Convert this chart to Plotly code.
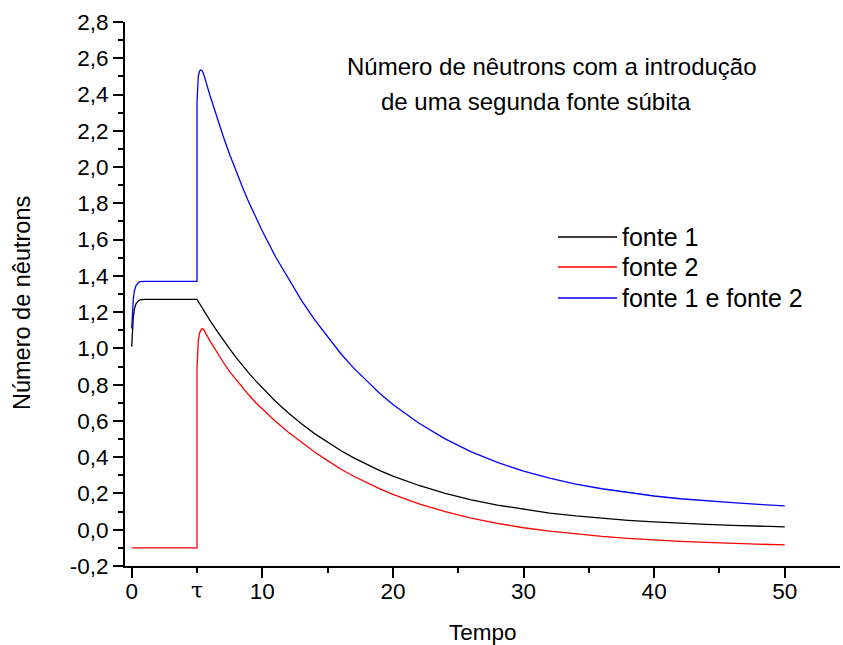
import plotly.graph_objects as go

# Time axis shared by the three curves (second source switched on at t = tau = 5)
tempo = [0, 0.06, 0.12, 0.2, 0.33, 0.5, 0.64, 1.0, 5.0,
         5.0, 5.05, 5.1, 5.2, 5.3, 5.4, 5.5, 6, 6.5, 7, 7.5, 8, 8.5, 9, 9.5, 10,
         11, 12, 13, 14, 15, 16, 17, 18, 19, 20, 22, 24, 26, 28, 30,
         32, 34, 36, 38, 40, 42, 44, 46, 48, 50]

fonte_1 = [1.01, 1.10, 1.17, 1.215, 1.246, 1.262, 1.268, 1.27, 1.27,
           1.27, 1.264, 1.258, 1.246, 1.234, 1.222, 1.21, 1.153, 1.099, 1.046, 0.997,
           0.949, 0.904, 0.861, 0.821, 0.782,
           0.709, 0.644, 0.584, 0.530, 0.481, 0.437, 0.396, 0.360, 0.326, 0.296,
           0.244, 0.201, 0.165, 0.136, 0.112,
           0.092, 0.076, 0.063, 0.052, 0.043, 0.035, 0.029, 0.024, 0.020, 0.016]

fonte_2 = [-0.1, -0.1, -0.1, -0.1, -0.1, -0.1, -0.1, -0.1, -0.1,
           0.89, 0.99, 1.044, 1.085, 1.102, 1.108, 1.105, 1.04, 0.98, 0.925, 0.872,
           0.826, 0.782, 0.74, 0.70, 0.665,
           0.598, 0.538, 0.481, 0.429, 0.381, 0.335, 0.295, 0.259, 0.225, 0.195,
           0.143, 0.100, 0.064, 0.035, 0.011,
           -0.008, -0.024, -0.037, -0.048, -0.057, -0.064, -0.070, -0.075, -0.080, -0.084]

fonte_1_e_2 = [1.11, 1.20, 1.27, 1.315, 1.346, 1.362, 1.368, 1.37, 1.37,
               2.36, 2.454, 2.502, 2.531, 2.536, 2.53, 2.515, 2.393, 2.279, 2.171, 2.069,
               1.975, 1.886, 1.801, 1.721, 1.647,
               1.507, 1.382, 1.265, 1.159, 1.062, 0.972, 0.891, 0.819, 0.751, 0.691,
               0.587, 0.501, 0.429, 0.371, 0.323,
               0.284, 0.252, 0.226, 0.204, 0.186, 0.171, 0.159, 0.149, 0.140, 0.132]

series_names = ["fonte 1", "fonte 2", "fonte 1 e fonte 2"]
series_values = [fonte_1, fonte_2, fonte_1_e_2]
series_colors = ["#000000", "#FF0000", "#0000FF"]

x_tick_vals = [0, 10, 20, 30, 40, 50]
x_tick_text = ["0", "10", "20", "30", "40", "50"]
x_minor_vals = [5, 15, 25, 35, 45]
tau_label = "τ"

y_tick_vals = [-0.2, 0.0, 0.2, 0.4, 0.6, 0.8, 1.0, 1.2, 1.4, 1.6, 1.8, 2.0, 2.2, 2.4, 2.6, 2.8]
y_tick_text = ["-0,2", "0,0", "0,2", "0,4", "0,6", "0,8", "1,0", "1,2", "1,4",
               "1,6", "1,8", "2,0", "2,2", "2,4", "2,6", "2,8"]
y_minor_vals = [-0.1, 0.1, 0.3, 0.5, 0.7, 0.9, 1.1, 1.3, 1.5, 1.7, 1.9, 2.1, 2.3, 2.5, 2.7]

title_lines = ["Número de nêutrons com a introdução", "de uma segunda fonte súbita"]
x_title = "Tempo"
y_title = "Número de nêutrons"

W, H = 843, 645
L, R, T, B = 125, 3, 22, 79
FONT = "Liberation Sans, Arial, sans-serif"


def px_x(p):
    return (p - L) / (W - L - R)


def px_y(p):
    return (H - B - p) / (H - T - B)


fig = go.Figure()
for name, vals, col in zip(series_names, series_values, series_colors):
    fig.add_trace(go.Scatter(x=tempo, y=vals, mode="lines", name=name,
                             line=dict(color=col, width=1.3), showlegend=False))

axis_common = dict(showgrid=False, zeroline=False, showline=True, linecolor="black",
                   linewidth=2, ticks="outside", ticklen=10, tickwidth=1.6,
                   tickcolor="black", tickfont=dict(family=FONT, size=22.5, color="black"))

fig.update_xaxes(range=[-0.513, 54.23], tickmode="array", tickvals=x_tick_vals,
                 ticktext=x_tick_text, ticklabelstandoff=-6,
                 minor=dict(tickvals=x_minor_vals, ticks="outside", ticklen=5,
                            tickwidth=1.6, tickcolor="black"),
                 **axis_common)
fig.update_yaxes(range=[-0.2, 2.8], tickmode="array", tickvals=y_tick_vals,
                 ticktext=y_tick_text,
                 minor=dict(tickvals=y_minor_vals, ticks="outside", ticklen=5,
                            tickwidth=1.6, tickcolor="black"),
                 **axis_common)

annotations = [
    dict(x=5, xref="x", y=0, yref="paper", yshift=-24, text=tau_label, showarrow=False,
         font=dict(family="DejaVu Serif, serif", size=22, color="black"), yanchor="middle"),
    dict(x=px_x(345), xref="paper", y=px_y(66), yref="paper", text=title_lines[0],
         showarrow=False, xanchor="left", yanchor="middle",
         font=dict(family=FONT, size=24, color="black")),
    dict(x=px_x(379), xref="paper", y=px_y(101), yref="paper", text=title_lines[1],
         showarrow=False, xanchor="left", yanchor="middle",
         font=dict(family=FONT, size=24, color="black")),
    dict(x=px_x(483), xref="paper", y=px_y(632), yref="paper", text=x_title,
         showarrow=False, xanchor="center", yanchor="middle",
         font=dict(family=FONT, size=22.5, color="black")),
    dict(x=px_x(22), xref="paper", y=px_y(303), yref="paper", text=y_title,
         showarrow=False, textangle=-90, xanchor="center", yanchor="middle",
         font=dict(family=FONT, size=23.5, color="black")),
]

# Legend drawn as key lines plus labels
shapes = []
legend_rows = [237, 267, 298]
for name, col, row in zip(series_names, series_colors, legend_rows):
    shapes.append(dict(type="line", xref="paper", yref="paper",
                       x0=px_x(558), x1=px_x(617), y0=px_y(row), y1=px_y(row),
                       line=dict(color=col, width=1.3)))
    annotations.append(dict(x=px_x(620), xref="paper", y=px_y(row), yref="paper",
                            text=name, showarrow=False, xanchor="left", yanchor="middle",
                            font=dict(family=FONT, size=25, color="black")))

fig.update_layout(width=W, height=H, margin=dict(l=L, r=R, t=T, b=B),
                  paper_bgcolor="white", plot_bgcolor="white",
                  annotations=annotations, shapes=shapes,
                  font=dict(family=FONT, color="black"))

fig.write_html("out.html")
